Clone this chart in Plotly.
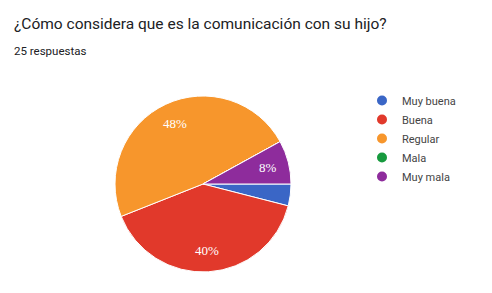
import math
import plotly.graph_objects as go

labels = ["Muy buena", "Buena", "Regular", "Mala", "Muy mala"]
values = [1, 10, 12, 0, 2]
colors = ["#3a66c6", "#e1392b", "#f7962c", "#179a3e", "#8e2c9c"]
title_text = "¿Cómo considera que es la comunicación con su hijo?"
subtitle_text = "25 respuestas"

total = sum(values)

W, H = 492, 293
cx, cy, r = 203, 184, 88

fig = go.Figure()
fig.add_trace(go.Pie(
    labels=labels, values=values, textinfo="none",
    sort=False, direction="clockwise", rotation=90,
    marker=dict(colors=colors, line=dict(color="white", width=1)),
    showlegend=False, hoverinfo="label+percent",
    domain=dict(x=[(cx - r) / W, (cx + r) / W], y=[(H - cy - r) / H, (H - cy + r) / H]),
))
for lab, col in zip(labels, colors):
    fig.add_trace(go.Scatter(
        x=[None], y=[None], mode="markers", name=lab,
        marker=dict(color=col, size=10, symbol="circle"),
    ))

# percentage labels placed along each slice's mid-angle (computed from values)
annotations = []
cum = 0
for v in values:
    frac = v / total
    mid = cum + frac / 2
    cum += frac
    if frac < 0.05:
        continue
    ang = -mid * 2 * math.pi  # clockwise from 3 o'clock
    px = cx + 0.76 * r * math.cos(ang)
    py = cy - 0.76 * r * math.sin(ang)
    annotations.append(dict(
        text=f"{round(frac * 100)}%", x=px / W, y=1 - py / H, xref="paper", yref="paper",
        xanchor="center", yanchor="middle", showarrow=False,
        font=dict(family="Liberation Serif", size=13, color="white"),
    ))

annotations += [
    dict(text=title_text, x=12 / W, y=1 - 24 / H, xref="paper", yref="paper",
         xanchor="left", yanchor="middle", showarrow=False,
         font=dict(family="Roboto", size=15.5, color="#202124")),
    dict(text=subtitle_text, x=12 / W, y=1 - 51 / H, xref="paper", yref="paper",
         xanchor="left", yanchor="middle", showarrow=False,
         font=dict(family="Roboto", size=11.5, color="#202124")),
]

fig.update_layout(
    width=W, height=H, margin=dict(l=0, r=0, t=0, b=0),
    paper_bgcolor="white", plot_bgcolor="white",
    xaxis=dict(visible=False), yaxis=dict(visible=False),
    legend=dict(x=362 / W, y=1 - 86 / H, xanchor="left", yanchor="top",
                font=dict(family="Roboto", size=11, color="#444444"),
                tracegroupgap=0, itemwidth=30, bgcolor="rgba(0,0,0,0)"),
    annotations=annotations,
)
fig.write_html("out.html")
